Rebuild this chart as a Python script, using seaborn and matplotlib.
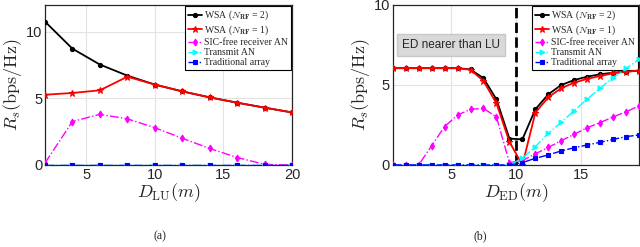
# -------------------- IMPORTS --------------------
import numpy as np
import pandas as pd
import matplotlib
matplotlib.use("Agg")
import matplotlib.pyplot as plt
import seaborn as sns

# -------------------- DATA --------------------
# (a) secrecy rate vs LU distance
d_lu = [2, 4, 6, 8, 10, 12, 14, 16, 18, 20]
a_wsa2 = [10.75, 8.72, 7.53, 6.7, 6.03, 5.52, 5.07, 4.67, 4.3, 3.94]
a_wsa1 = [5.27, 5.4, 5.6, 6.62, 6.03, 5.52, 5.07, 4.67, 4.3, 3.94]
a_sic = [0.15, 3.26, 3.8, 3.46, 2.8, 2.0, 1.24, 0.56, 0.05, 0.0]
a_tan = [0, 0, 0, 0, 0, 0, 0, 0, 0, 0]
a_trad = [0, 0, 0, 0, 0, 0, 0, 0, 0, 0]

# (b) secrecy rate vs ED distance
d_ed = [0.5, 1.5, 2.5, 3.5, 4.5, 5.5, 6.5, 7.5, 8.5, 9.5,
        10.5, 11.5, 12.5, 13.5, 14.5, 15.5, 16.5, 17.5, 18.5, 19.5]
b_wsa2 = [6.05, 6.05, 6.05, 6.05, 6.05, 6.05, 5.97, 5.42, 4.1, 1.65,
          1.6, 3.48, 4.42, 5.0, 5.31, 5.52, 5.67, 5.77, 5.83, 5.9]
b_wsa1 = [6.05, 6.05, 6.05, 6.05, 6.05, 6.05, 5.95, 5.25, 3.85, 1.45,
          0.0, 3.27, 4.23, 4.8, 5.15, 5.38, 5.56, 5.73, 5.83, 5.9]
b_sic = [0, 0, 0, 1.2, 2.4, 3.12, 3.48, 3.54, 3.0, 0.15,
         0.27, 0.7, 1.1, 1.52, 1.92, 2.33, 2.65, 3.0, 3.33, 3.69]
b_tan = [0, 0, 0, 0, 0, 0, 0, 0, 0, 0,
         0.42, 1.15, 1.98, 2.67, 3.4, 4.12, 4.8, 5.46, 6.04, 6.6]
b_trad = [0, 0, 0, 0, 0, 0, 0, 0, 0, 0,
          0.15, 0.42, 0.63, 0.88, 1.08, 1.25, 1.42, 1.6, 1.77, 1.88]

labels = [r"WSA ($N_{\mathbf{RF}}$ = 2)", r"WSA ($N_{\mathbf{RF}}$ = 1)",
          "SIC-free receiver AN", "Transmit AN", "Traditional array"]

# -------------------- STYLE --------------------
sns.set_style("whitegrid")
plt.rcParams["font.family"] = ["Liberation Sans", "DejaVu Sans"]
plt.rcParams["mathtext.fontset"] = "cm"

colors = ["black", "red", "magenta", "cyan", "blue"]
lstyles = ["-", "-", "-.", "-.", "-."]
markers = ["o", "*", "d", ">", "s"]
msizes = [3, 5, 3.5, 3.5, 3]
lwidths = [1.3, 1.3, 1.0, 1.0, 1.0]

fig = plt.figure(figsize=(6.4, 2.47), dpi=100)
ax_a = fig.add_axes([0.0703, 0.332, 0.386, 0.648])
ax_b = fig.add_axes([0.6136, 0.332, 0.385, 0.648])


def draw(ax, x, series):
    for i, (y, lab) in enumerate(zip(series, labels)):
        sns.lineplot(x=x, y=y, ax=ax, label=lab, color=colors[i],
                     linestyle=lstyles[i], marker=markers[i], markersize=msizes[i],
                     linewidth=lwidths[i], markeredgecolor=colors[i],
                     markerfacecolor=colors[i], markeredgewidth=0.8, zorder=3)
    ax.grid(True, color="#e3e3e3", lw=0.8)
    for s in ax.spines.values():
        s.set_color("#262626")
        s.set_linewidth(0.9)
    ax.tick_params(labelsize=10.5, direction="in", length=3, pad=2)
    ax.set_ylabel(r"$R_s(\rm bps/Hz)$", fontsize=13, labelpad=1)
    leg = ax.legend(loc="upper right", prop={"family": "Liberation Serif", "size": 7},
                    handlelength=1.5, handletextpad=0.2, labelspacing=0.12,
                    borderpad=0.25, borderaxespad=0.15, fancybox=False, framealpha=1)
    leg.get_frame().set_edgecolor("black")
    leg.get_frame().set_linewidth(0.8)
    leg.set_zorder(2)


# -------------------- (a) --------------------
draw(ax_a, d_lu, [a_wsa2, a_wsa1, a_sic, a_tan, a_trad])
ax_a.set_xlim(2, 20)
ax_a.set_ylim(0, 12)
ax_a.set_xticks([5, 10, 15, 20])
ax_a.set_yticks([0, 5, 10])
ax_a.set_xlabel(r"$D_{\rm LU}(m)$", fontsize=13, labelpad=0)

# -------------------- (b) --------------------
draw(ax_b, d_ed, [b_wsa2, b_wsa1, b_sic, b_tan, b_trad])
ax_b.axvline(10, color="black", linestyle="--", lw=2, zorder=1)
ax_b.set_xlim(0.5, 19.5)
ax_b.set_ylim(0, 10)
ax_b.set_xticks([5, 10, 15])
ax_b.set_yticks([0, 5, 10])
ax_b.set_xlabel(r"$D_{\rm ED}(m)$", fontsize=13, labelpad=0)
ax_b.text(5, 7.5, "ED nearer than LU", ha="center", va="center", fontsize=8.5,
          bbox=dict(boxstyle="square,pad=0.45", fc="#d9d9d9", ec="#c8c8c8"))

# -------------------- CAPTIONS --------------------
fig.text(0.25, 0.045, "(a)", ha="center", va="center", fontsize=8.5, family="Liberation Serif")
fig.text(0.75, 0.045, "(b)", ha="center", va="center", fontsize=8.5, family="Liberation Serif")

fig.savefig("out.png", dpi=100)
